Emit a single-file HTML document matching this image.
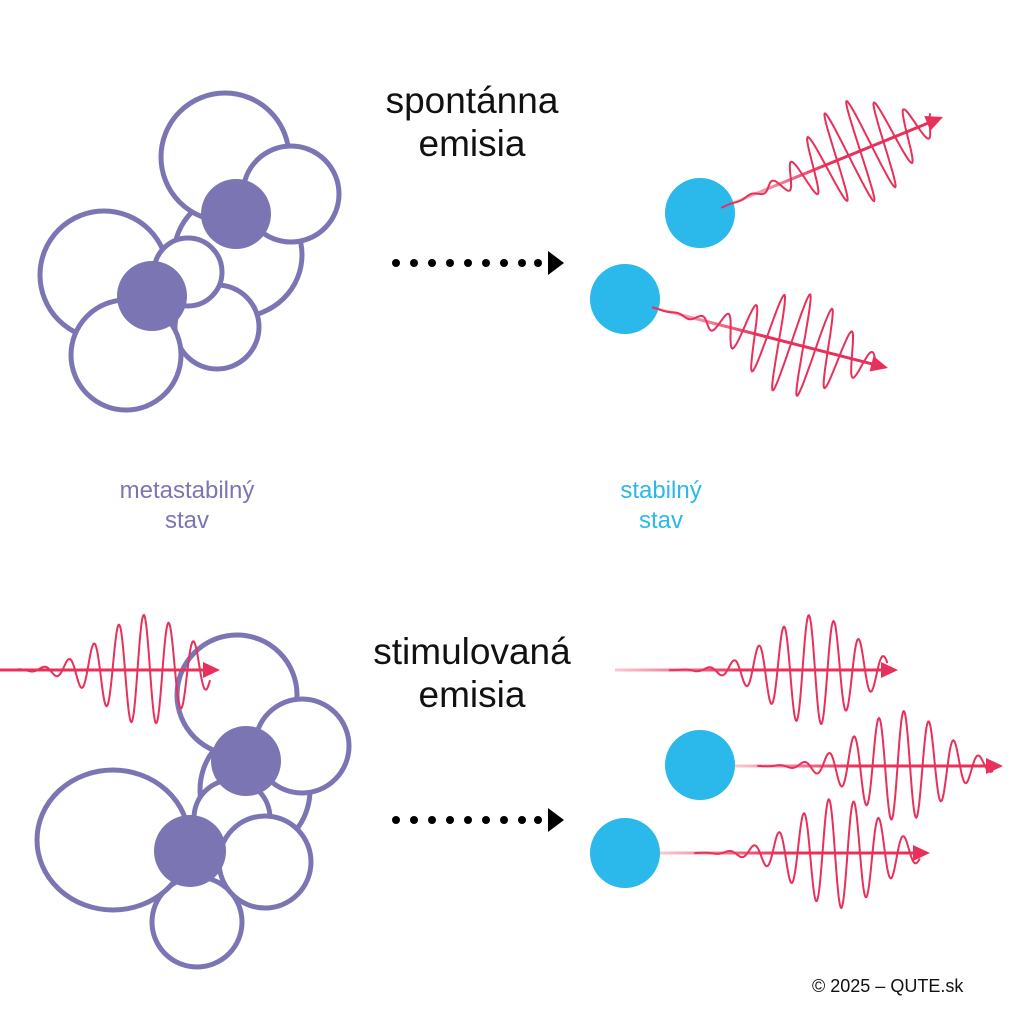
<!DOCTYPE html>
<html><head><meta charset="utf-8"><style>
html,body{margin:0;padding:0;background:#fff;}
svg{display:block}
text{font-family:"Liberation Sans",sans-serif;}
</style></head><body>
<svg id="s" width="1024" height="1024" viewBox="0 0 1024 1024" xmlns="http://www.w3.org/2000/svg">
<defs id="defs"></defs>
<g fill="#fff" stroke="#7b75b4" stroke-width="5">
<ellipse cx="238" cy="255" rx="64" ry="62"/>
<circle cx="225" cy="157" r="64"/>
<circle cx="291" cy="194" r="48"/>
<circle cx="104" cy="275" r="64"/>
<circle cx="217" cy="327" r="42"/>
<circle cx="188" cy="272" r="34"/>
<circle cx="126" cy="355" r="55"/>
</g>
<g fill="#7b75b4"><circle cx="236" cy="214" r="35"/><circle cx="152" cy="296" r="35"/></g>

<g fill="#fff" stroke="#7b75b4" stroke-width="5">
<ellipse cx="255" cy="790" rx="55" ry="60"/>
<circle cx="237" cy="695" r="60"/>
<circle cx="302" cy="746" r="47"/>
<circle cx="197" cy="922" r="45"/>
<ellipse cx="113" cy="840" rx="76" ry="70"/>
<circle cx="232" cy="818" r="38"/>
<circle cx="265" cy="862" r="46"/>
</g>
<g fill="#7b75b4"><circle cx="246" cy="761" r="35"/><circle cx="190" cy="851" r="36"/></g>

<g fill="#2bb8ea"><circle cx="700" cy="213" r="35"/><circle cx="625" cy="299" r="35"/><circle cx="700" cy="765" r="35"/><circle cx="625" cy="853" r="35"/></g>

<g id="waves"></g>

<g fill="#000">
<circle cx="396" cy="263" r="4"/><circle cx="414" cy="263" r="4"/><circle cx="432" cy="263" r="4"/><circle cx="450" cy="263" r="4"/><circle cx="468" cy="263" r="4"/><circle cx="486" cy="263" r="4"/><circle cx="504" cy="263" r="4"/><circle cx="522" cy="263" r="4"/><circle cx="538" cy="263" r="4"/>
<polygon points="548,251 564,263 548,275"/>
<circle cx="396" cy="820" r="4"/><circle cx="414" cy="820" r="4"/><circle cx="432" cy="820" r="4"/><circle cx="450" cy="820" r="4"/><circle cx="468" cy="820" r="4"/><circle cx="486" cy="820" r="4"/><circle cx="504" cy="820" r="4"/><circle cx="522" cy="820" r="4"/><circle cx="538" cy="820" r="4"/>
<polygon points="548,808 564,820 548,832"/>
</g>

<g font-size="37" text-anchor="middle" fill="#111">
<text x="472" y="113">spontánna</text><text x="472" y="156">emisia</text>
<text x="472" y="664">stimulovaná</text><text x="472" y="707">emisia</text>
</g>
<g font-size="24" text-anchor="middle">
<text x="187" y="498" fill="#7b75b4">metastabilný</text><text x="187" y="528" fill="#7b75b4">stav</text>
<text x="661" y="498" fill="#2bb8ea">stabilný</text><text x="661" y="528" fill="#2bb8ea">stav</text>
</g>
<text x="812" y="992" font-size="18" fill="#111">© 2025 – QUTE.sk</text>
</svg>
<script>
var W=document.getElementById('waves'),D=document.getElementById('defs'),NS='http://www.w3.org/2000/svg',k=0;
function wave(x0,y0,x1,y1,amp,c,sig,lam,fade){
 var dx=x1-x0,dy=y1-y0,L=Math.hypot(dx,dy),ux=dx/L,uy=dy/L,px=-uy,py=ux;
 var ln=document.createElementNS(NS,'line');
 ln.setAttribute('x1',x0);ln.setAttribute('y1',y0);ln.setAttribute('x2',x1-ux*12);ln.setAttribute('y2',y1-uy*12);
 if(fade){
  var g=document.createElementNS(NS,'linearGradient');g.setAttribute('id','g'+k);
  g.setAttribute('gradientUnits','userSpaceOnUse');
  g.setAttribute('x1',x0);g.setAttribute('y1',y0);g.setAttribute('x2',x0+ux*L*0.45);g.setAttribute('y2',y0+uy*L*0.45);
  g.innerHTML='<stop offset="0" stop-color="#f9c9d4"/><stop offset="1" stop-color="#e8305a"/>';
  D.appendChild(g);ln.setAttribute('stroke','url(#g'+k+')');k++;
 } else ln.setAttribute('stroke','#e8305a');
 ln.setAttribute('stroke-width','3');
 W.appendChild(ln);
 var d='';
 for(var t=c*L-2.4*sig;t<=Math.min(L-10,c*L+2.4*sig);t+=0.6){
  var e=amp*Math.exp(-Math.pow((t-c*L)/sig,2));
  var v=e*Math.sin(2*Math.PI*t/lam);
  var X=x0+ux*t+px*v,Y=y0+uy*t+py*v;
  d+=(d?'L':'M')+X.toFixed(1)+','+Y.toFixed(1);
 }
 var p=document.createElementNS(NS,'path');p.setAttribute('d',d);p.setAttribute('fill','none');
 p.setAttribute('stroke','#e8305a');p.setAttribute('stroke-width','2');W.appendChild(p);
 var tr=document.createElementNS(NS,'polygon');
 var bx=x1-ux*17,by=y1-uy*17;
 tr.setAttribute('points',x1+','+y1+' '+(bx+px*8)+','+(by+py*8)+' '+(bx-px*8)+','+(by-py*8));
 tr.setAttribute('fill','#e8305a');W.appendChild(tr);
}
wave(733,203,943,117,52,0.6,62,25,true);
wave(658,309,888,368,52,0.6,62,25,true);
wave(0,670,220,670,55,0.66,60,25,false);
wave(615,670,898,670,55,0.7,60,25,true);
wave(735,766,1003,766,55,0.62,60,25,true);
wave(660,853,930,853,55,0.66,60,25,true);
</script>
</body></html>
